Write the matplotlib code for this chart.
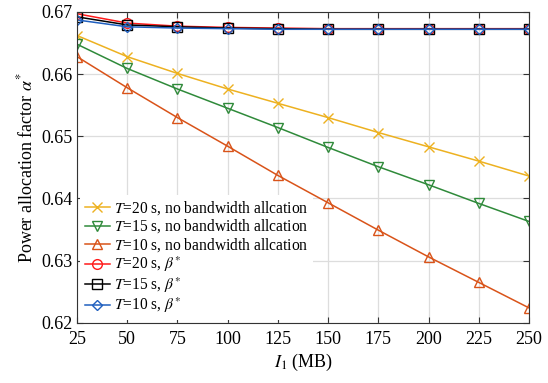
import matplotlib
matplotlib.use("Agg")
import matplotlib.pyplot as plt

# data
sizes = [25, 50, 75, 100, 125, 150, 175, 200, 225, 250]

no_bw_20 = [0.6662, 0.6628, 0.6601, 0.6576, 0.6553, 0.6530, 0.6506, 0.6483, 0.6460, 0.6436]
no_bw_15 = [0.6648, 0.6609, 0.6576, 0.6545, 0.6514, 0.6482, 0.6451, 0.6422, 0.6392, 0.6363]
no_bw_10 = [0.6628, 0.6578, 0.6530, 0.6484, 0.6437, 0.6393, 0.6349, 0.6306, 0.6265, 0.6224]
beta_20 = [0.6697, 0.6682, 0.6677, 0.6675, 0.6674, 0.6673, 0.6673, 0.6673, 0.6673, 0.6673]
beta_15 = [0.6692, 0.6679, 0.6676, 0.6674, 0.6673, 0.6672, 0.6672, 0.6672, 0.6672, 0.6672]
beta_10 = [0.6687, 0.6676, 0.6674, 0.6673, 0.6672, 0.6672, 0.6672, 0.6672, 0.6672, 0.6672]

xticks = [25, 50, 75, 100, 125, 150, 175, 200, 225, 250]
yticks = [0.62, 0.63, 0.64, 0.65, 0.66, 0.67]

plt.rcParams['font.family'] = ['Liberation Serif', 'DejaVu Serif']
plt.rcParams['mathtext.fontset'] = 'stix'
plt.rcParams['font.size'] = 13

fig = plt.figure(figsize=(5.48, 3.83), dpi=100)
ax = fig.add_axes([0.1405, 0.157, 0.825, 0.812])

ms = 7
ax.plot(sizes, no_bw_20, color='#EDB120', marker='x', ms=ms, lw=1.1,
        label='$T$=20 s, no bandwidth allcation')
ax.plot(sizes, no_bw_15, color='#2F8A3A', marker='v', ms=ms, lw=1.1, mfc='none',
        label='$T$=15 s, no bandwidth allcation')
ax.plot(sizes, no_bw_10, color='#D95319', marker='^', ms=ms, lw=1.1, mfc='none',
        label='$T$=10 s, no bandwidth allcation')
ax.plot(sizes, beta_20, color='#FF1A1A', marker='o', ms=ms, lw=1.1, mfc='none',
        label=r'$T$=20 s, $\beta^{*}$')
ax.plot(sizes, beta_15, color='black', marker='s', ms=6.5, lw=1.1, mfc='none',
        label=r'$T$=15 s, $\beta^{*}$')
ax.plot(sizes, beta_10, color='#1F5FBF', marker='D', ms=5.5, lw=1.1, mfc='none',
        label=r'$T$=10 s, $\beta^{*}$')

ax.set_xlim(25, 250)
ax.set_ylim(0.62, 0.67)
ax.set_xticks(xticks)
ax.set_yticks(yticks)
ax.set_yticklabels([f'{v:.2f}' for v in yticks])
ax.grid(True, color='#DDDDDD', lw=0.9)
ax.set_axisbelow(True)
ax.tick_params(direction='in', top=True, right=True, length=4, color='#333333',
               labelsize=13)
ax.tick_params(axis='x', pad=6)
ax.tick_params(axis='y', pad=3)
for s in ax.spines.values():
    s.set_color('#333333')

ax.set_xlabel('$I_1$ (MB)', labelpad=3)
ax.set_ylabel(r'Power allocation factor $\alpha^{*}$', labelpad=4)

ax.legend(loc='lower left', frameon=True, edgecolor='none', framealpha=1,
          fontsize=11.2, handlelength=1.6, handletextpad=0.3, labelspacing=0.05,
          borderaxespad=0.2, borderpad=0.3)

fig.savefig('out.png', dpi=100)
